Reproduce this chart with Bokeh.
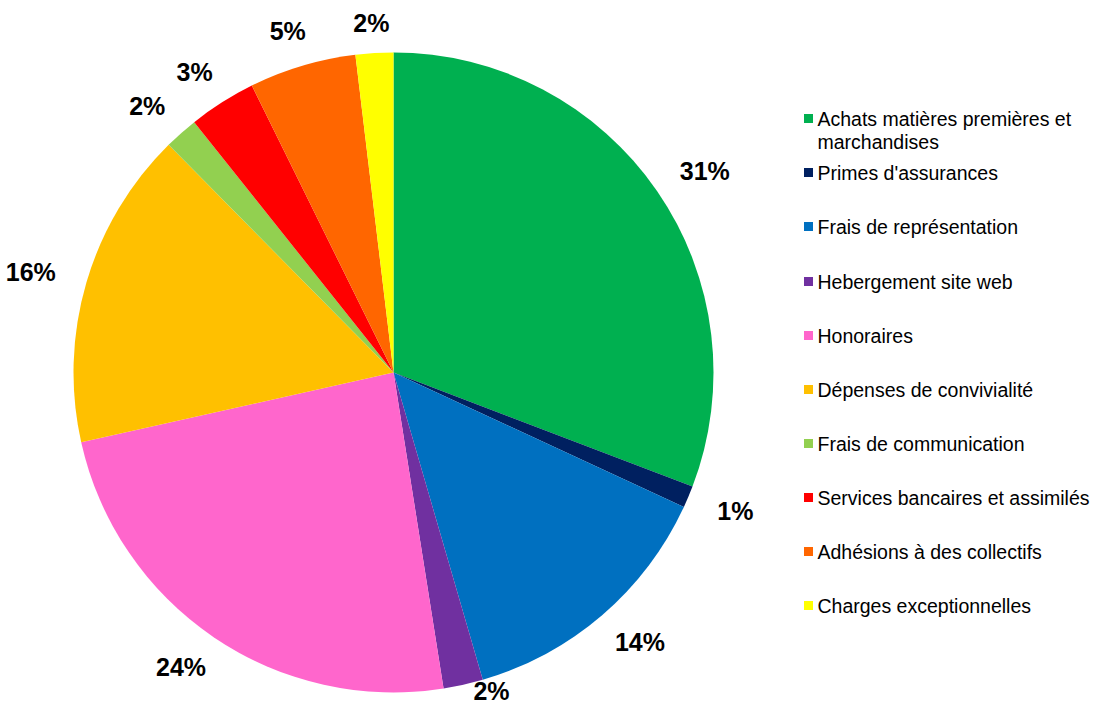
import math
from bokeh.plotting import figure
from bokeh.models import Range1d, ColumnDataSource
from bokeh.core.properties import value
from bokeh.embed import file_html
from bokeh.resources import INLINE

categories = ["Achats matières premières et marchandises", "Primes d'assurances",
              "Frais de représentation", "Hebergement site web", "Honoraires",
              "Dépenses de convivialité", "Frais de communication",
              "Services bancaires et assimilés", "Adhésions à des collectifs",
              "Charges exceptionnelles"]
legend_lines = [["Achats matières premières et", "marchandises"], ["Primes d'assurances"],
                ["Frais de représentation"], ["Hebergement site web"], ["Honoraires"],
                ["Dépenses de convivialité"], ["Frais de communication"],
                ["Services bancaires et assimilés"], ["Adhésions à des collectifs"],
                ["Charges exceptionnelles"]]
values = [30.8, 1.1, 13.6, 2.0, 24.0, 16.1, 1.7, 3.4, 5.4, 1.9]
colors = ["#00B050", "#002060", "#0070C0", "#7030A0", "#FF66CC",
          "#FFC000", "#92D050", "#FF0000", "#FF6600", "#FFFF00"]

W, H = 1094, 719
p = figure(width=W, height=H, output_backend="svg", toolbar_location=None,
           x_range=Range1d(0, W), y_range=Range1d(-H, 0),
           min_border=0)
p.axis.visible = False
p.grid.visible = False
p.outline_line_color = None
p.background_fill_color = "white"

cx, cy, R = 393, -372, 320
total = sum(values)
starts, ends, mids = [], [], []
acc = 0.0
for v in values:
    a0 = acc / total * 2 * math.pi
    acc += v
    a1 = acc / total * 2 * math.pi
    starts.append(math.pi / 2 - a0)
    ends.append(math.pi / 2 - a1)
    mids.append((a0 + a1) / 2)

src = ColumnDataSource(dict(start=starts, end=ends, color=colors))
p.wedge(x=cx, y=cy, radius=R, start_angle="start", end_angle="end",
        direction="clock", fill_color="color", line_color=None, source=src)

# percentage labels
fs = 25
lx, ly, lt = [], [], []
for v, m in zip(values, mids):
    t = f"{round(v)}%"
    nd = len(t) - 1
    hw = fs * (0.556 * nd + 0.889) / 2
    hh = 11
    s, c = math.sin(m), math.cos(m)
    x = cx + 345 * s + (hw + 8) * s
    y = cy + 345 * c + hh * c
    y = min(max(y, -690), -22)
    # slide sideways until the label box clears the pie
    for _ in range(200):
        nx = min(max(cx, x - hw), x + hw)
        ny = min(max(cy, y - 8), y + 8)
        if math.hypot(nx - cx, ny - cy) > R:
            break
        x += 1 if s >= 0 else -1
    lx.append(x); ly.append(y); lt.append(t)
p.text(x=lx, y=ly, text=lt, text_font=value("Liberation Sans"), text_font_style="bold",
       text_font_size=f"{fs}px", text_align="center", text_baseline="middle",
       text_color="black")

# legend
row_y = [118, 172, 226, 281, 335, 389, 443, 497, 551, 605]
mx, my, tx, ty, tt = [], [], [], [], []
for lines, yy in zip(legend_lines, row_y):
    mx.append(808); my.append(-yy)
    for k, ln in enumerate(lines):
        tx.append(817); ty.append(-(yy + 23 * k)); tt.append(ln)
p.rect(x=mx, y=my, width=9, height=9, fill_color=colors, line_color=None)
p.text(x=tx, y=ty, text=tt, text_font=value("Liberation Sans"), text_font_size="19.5px",
       text_align="left", text_baseline="middle", text_color="black")

open("out.html", "w").write(file_html(p, INLINE))
